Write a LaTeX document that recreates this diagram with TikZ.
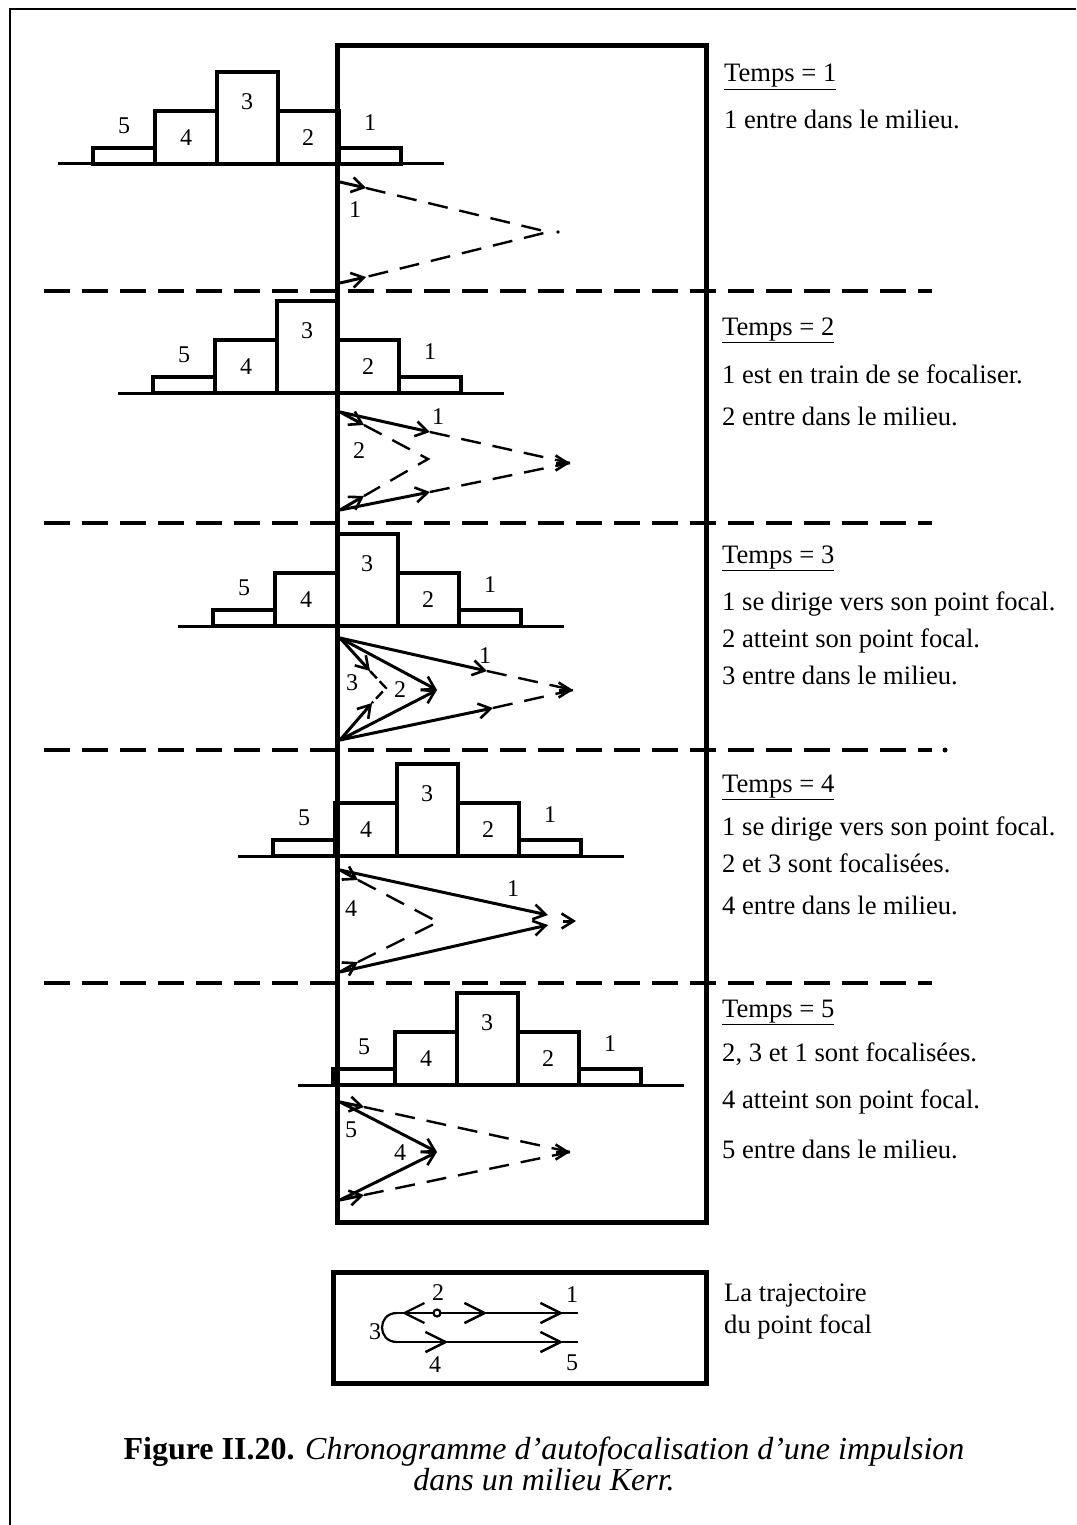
\documentclass[tikz,border=0pt]{standalone}
\usepackage{fontspec}
\setmainfont{Liberation Serif}
\usetikzlibrary{arrows.meta,decorations.markings}
\begin{document}
\begin{tikzpicture}[x=1pt,y=-1pt,
  frame/.style={line width=2pt},
  bigbox/.style={line width=5pt},
  baseln/.style={line width=3pt},
  blk/.style={line width=4pt},
  sep/.style={line width=4pt,dash pattern=on 26pt off 12pt},
  sray/.style={line width=3pt},
  dray/.style={line width=2.4pt,dash pattern=on 20pt off 12pt},
  atip/.style={-{Straight Barb[length=12pt,width=15pt,line width=2.6pt]}},
  lbl/.style={font=\fontsize{24}{24}\selectfont,inner sep=0pt},
  txt/.style={font=\fontsize{26.6}{26.6}\selectfont,inner sep=0pt,anchor=base west},
  tline/.style={line width=2.2pt},
  marr/.style={postaction={decorate},decoration={markings,
     mark=at position #1 with {\arrow{Straight Barb[length=20pt,width=20pt,line width=2.2pt]}}}},
]
\useasboundingbox (0,0) rectangle (1076,1525);
% outer frame
\draw[frame] (10,1525) -- (10,9) -- (1076,9);
% pulses
\foreach \i/\b in {1/164,2/393,3/626,4/856,5/1085}{
  \pgfmathsetmacro\o{60*(\i-1)}
  \draw[baseln] ({58+\o},\b) -- ({444+\o},\b);
  \draw[blk] ({93+\o},\b) rectangle ({155+\o},{\b-16});
  \draw[blk] ({155+\o},\b) rectangle ({217+\o},{\b-53});
  \draw[blk] ({217+\o},\b) rectangle ({278+\o},{\b-92});
  \draw[blk] ({278+\o},\b) rectangle ({339+\o},{\b-53});
  \draw[blk] ({339+\o},\b) rectangle ({401+\o},{\b-16});
  \node[lbl] (p\i n5) at ({124+\o},{\b-38}) {5};
  \node[lbl] (p\i n4) at ({186+\o},{\b-26}) {4};
  \node[lbl] (p\i n3) at ({247+\o},{\b-62}) {3};
  \node[lbl] (p\i n2) at ({308+\o},{\b-26}) {2};
  \node[lbl] (p\i n1) at ({370+\o},{\b-41}) {1};
}
% separators
\foreach \y in {291,523,750,983}{\draw[sep] (44,\y) -- (932,\y);}
\fill (945,750) circle (2.5);
% main box
\draw[bigbox] (337,46) rectangle (706,1222);

% ---------- panel 1
\coordinate (W1t) at (340,182); \coordinate (W1b) at (340,283);
\coordinate (F1) at (548,232);
\coordinate (a1t) at (366,188); \coordinate (a1b) at (366,277);
\draw[sray,atip] (W1t) -- (a1t); \draw[sray,atip] (W1b) -- (a1b);
\draw[dray] (a1t) -- (F1) -- (a1b);
\fill (558,232) circle (1.8);
\node[lbl] (r1l1) at (355,210) {1};

% ---------- panel 2
\coordinate (W2t) at (340,412); \coordinate (W2b) at (340,510);
\coordinate (F2) at (570,463); \coordinate (G2) at (428,459);
\coordinate (a2t) at (430,432); \coordinate (a2b) at (430,492);
\coordinate (c2t) at (364,425); \coordinate (c2b) at (364,496);
\draw[sray,atip] (W2t) -- (a2t); \draw[sray,atip] (W2b) -- (a2b);
\draw[dray] (a2t) -- (F2); \draw[dray] (a2b) -- (F2);
\draw[sray,atip] (556,463) -- (F2);
\draw[sray,atip] (W2t) -- (c2t); \draw[sray,atip] (W2b) -- (c2b);
\draw[dray] (c2t) -- (G2) -- (c2b);
\node[lbl] (r2l2) at (359,451) {2};
\node[lbl] (r2l1) at (438,417) {1};

% ---------- panel 3
\coordinate (W3t) at (340,638); \coordinate (W3b) at (340,740);
\coordinate (F3) at (573,690); \coordinate (G3) at (437,690); \coordinate (H3) at (386,688);
\coordinate (a3t) at (487,671); \coordinate (a3b) at (493,708);
\coordinate (c3t) at (370,671); \coordinate (c3b) at (372,703);
\draw[sray,atip] (W3t) -- (a3t); \draw[sray,atip] (W3b) -- (a3b);
\draw[dray] (a3t) -- (F3); \draw[dray] (a3b) -- (F3);
\draw[sray,atip] (559,690) -- (F3);
\draw[sray,atip] (W3t) -- (G3); \draw[sray,atip] (W3b) -- (G3);
\draw[sray,atip] (W3t) -- (c3t); \draw[sray,atip] (W3b) -- (c3b);
\draw[dray,dash pattern=on 10pt off 4pt] (c3t) -- (H3) -- (c3b);
\node[lbl] (r3l3) at (352,683) {3};
\node[lbl] (r3l2) at (400,690) {2};
\node[lbl] (r3l1) at (485,656) {1};

% ---------- panel 4
\coordinate (W4t) at (340,870); \coordinate (W4b) at (340,972);
\coordinate (F4a) at (548,915); \coordinate (F4b) at (548,925);
\coordinate (F4s) at (563,921); \coordinate (F4) at (576,921);
\coordinate (G4) at (438,922);
\coordinate (c4t) at (358,880); \coordinate (c4b) at (358,962);
\draw[sray,atip] (W4t) -- (F4a); \draw[sray,atip] (W4b) -- (F4b);
\draw[sray,atip] (F4s) -- (F4);
\draw[sray,atip] (W4t) -- (c4t); \draw[sray,atip] (W4b) -- (c4b);
\draw[dray] (c4t) -- (G4) -- (c4b);
\node[lbl] (r4l4) at (351,909) {4};
\node[lbl] (r4l1) at (513,889) {1};

% ---------- panel 5
\coordinate (W5t) at (340,1102); \coordinate (W5b) at (340,1200);
\coordinate (F5) at (570,1152); \coordinate (G5) at (437,1152);
\coordinate (c5t) at (364,1107); \coordinate (c5b) at (364,1195);
\draw[sray,atip] (W5t) -- (c5t); \draw[sray,atip] (W5b) -- (c5b);
\draw[dray] (c5t) -- (F5); \draw[dray] (c5b) -- (F5);
\draw[sray,atip] (556,1152) -- (F5);
\draw[sray,atip] (W5t) -- (G5); \draw[sray,atip] (W5b) -- (G5);
\node[lbl] (r5l5) at (351,1130) {5};
\node[lbl] (r5l4) at (400,1153) {4};

% ---------- right texts
\node[txt] (t1) at (724,82) {\underline{Temps = 1}};
\node[txt] (t1a) at (724,129) {1 entre dans le milieu.};
\node[txt] (t2) at (722,335) {\underline{Temps = 2}};
\node[txt] (t2a) at (722,383) {1 est en train de se focaliser.};
\node[txt] (t2b) at (722,425) {2 entre dans le milieu.};
\node[txt] (t3) at (722,563) {\underline{Temps = 3}};
\node[txt] (t3a) at (722,610) {1 se dirige vers son point focal.};
\node[txt] (t3b) at (722,647) {2 atteint son point focal.};
\node[txt] (t3c) at (722,684) {3 entre dans le milieu.};
\node[txt] (t4) at (722,792) {\underline{Temps = 4}};
\node[txt] (t4a) at (722,835) {1 se dirige vers son point focal.};
\node[txt] (t4b) at (722,872) {2 et 3 sont focalisées.};
\node[txt] (t4c) at (722,914) {4 entre dans le milieu.};
\node[txt] (t5) at (722,1017) {\underline{Temps = 5}};
\node[txt] (t5a) at (722,1061) {2, 3 et 1 sont focalisées.};
\node[txt] (t5b) at (722,1108) {4 atteint son point focal.};
\node[txt] (t5c) at (722,1158) {5 entre dans le milieu.};

% ---------- trajectory box
\draw[bigbox] (333,1272) rectangle (706,1383);
\coordinate (s2) at (437,1313);
\coordinate (u1) at (578,1313); \coordinate (u0) at (397,1313);
\coordinate (l0) at (397,1342); \coordinate (l1) at (578,1342);
\draw[tline,marr=50pt,marr=126pt] (s2) -- (u1);
\draw[tline,marr=35pt] (s2) -- (u0);
\draw[tline] (u0) .. controls (377,1313) and (377,1342) .. (l0);
\draw[tline,marr=51pt,marr=166pt] (l0) -- (l1);
\draw[tline,fill=white] (s2) circle (3.5);
\node[lbl] (k2) at (438,1293) {2};
\node[lbl] (k1) at (572,1295) {1};
\node[lbl] (k3) at (375,1332) {3};
\node[lbl] (k4) at (435,1365) {4};
\node[lbl] (k5) at (572,1363) {5};
\node[txt] (tr1) at (724,1301) {La trajectoire};
\node[txt] (tr2) at (724,1333) {du point focal};

% ---------- caption
\node[font=\fontsize{32}{32}\selectfont,inner sep=0pt,anchor=base] (cap1) at (544,1459)
  {\textbf{Figure II.20.} \textit{Chronogramme d'autofocalisation d'une impulsion}};
\node[font=\fontsize{32}{32}\selectfont,inner sep=0pt,anchor=base] (cap2) at (544,1490)
  {\textit{dans un milieu Kerr.}};
\end{tikzpicture}
\end{document}
